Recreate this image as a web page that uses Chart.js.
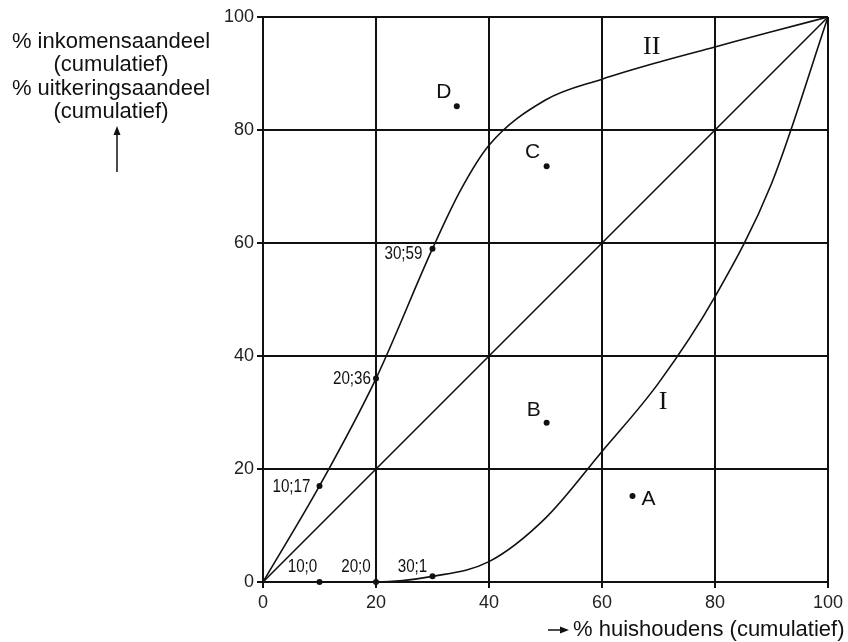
<!DOCTYPE html>
<html>
<head>
<meta charset="utf-8">
<script src="https://cdn.jsdelivr.net/npm/chart.js@4/dist/chart.umd.min.js"></script>
<style>
  html, body { margin: 0; padding: 0; background: #fff; }
</style>
</head>
<body>
<canvas id="lorenz" width="848" height="642"></canvas>
<script>
// tick labels for both axes
const axisTicks = [0, 20, 40, 60, 80, 100];

// equal distribution line
const diagX = [0, 100];
const diagY = [0, 100];

// curve I (inkomen)
const curveIX = [0, 10, 20, 30, 40, 50, 60, 70, 80, 90, 100];
const curveIY = [0, 0, 0, 1, 3.6, 11.3, 23.1, 35.2, 50.5, 70.5, 100];

// curve II (uitkeringen)
const curveIIX = [0, 10, 20, 30, 35, 40, 50, 60, 70, 80, 90, 100];
const curveIIY = [0, 17, 36, 59, 69.4, 77.3, 85.3, 89, 92, 94.7, 97.4, 100];

// labelled points on the curves
const markedLabels = ['10;17', '20;36', '30;59', '10;0', '20;0', '30;1'];
const markedX = [10, 20, 30, 10, 20, 30];
const markedY = [17, 36, 59, 0, 0, 1];

// loose points A..D
const letterLabels = ['A', 'B', 'C', 'D'];
const letterX = [65.4, 50.2, 50.2, 34.3];
const letterY = [15.2, 28.2, 73.6, 84.2];

// curve names, anchored in data units
const curveNames = ['I', 'II'];
const curveNameX = [70.8, 68.8];
const curveNameY = [31.9, 94.7];

const toPoints = (xs, ys) => xs.map((v, i) => ({ x: v, y: ys[i] }));

// text offsets in pixels (dx, dy, align)
const markedOffsets = [[-9, 1, 'right'], [-5, 0, 'right'], [-10, 5, 'right'],
                       [-17, -15, 'center'], [-20, -15, 'center'], [-20, -10, 'center']];
const letterOffsets = [[16, 3], [-13, -12], [-14, -14], [-13, -14]];

const INK = '#111';
const NARROW = 0.8; // horizontal squeeze for the small point labels

const annotations = {
    id: 'annotations',
    afterDatasetsDraw(chart) {
        const { ctx, scales: { x, y } } = chart;
        ctx.save();
        ctx.fillStyle = INK;
        ctx.strokeStyle = INK;
        ctx.textBaseline = 'middle';

        // narrow labels: squeeze the context instead of relying on a narrow font
        ctx.font = '19px "Liberation Sans", Arial, sans-serif';
        markedLabels.forEach((t, i) => {
            const o = markedOffsets[i];
            const px = x.getPixelForValue(markedX[i]) + o[0];
            const py = y.getPixelForValue(markedY[i]) + o[1];
            ctx.save();
            ctx.translate(px, py);
            ctx.scale(NARROW, 1);
            ctx.textAlign = o[2];
            ctx.fillText(t, 0, 0);
            ctx.restore();
        });

        ctx.font = '21px "Liberation Sans", Arial, sans-serif';
        ctx.textAlign = 'center';
        letterLabels.forEach((t, i) => {
            const o = letterOffsets[i];
            ctx.fillText(t, x.getPixelForValue(letterX[i]) + o[0], y.getPixelForValue(letterY[i]) + o[1]);
        });

        ctx.font = '26px "Liberation Serif", "Times New Roman", serif';
        curveNames.forEach((t, i) => {
            ctx.fillText(t, x.getPixelForValue(curveNameX[i]), y.getPixelForValue(curveNameY[i]));
        });

        // axis titles
        ctx.font = '22px "Liberation Sans", Arial, sans-serif';
        ctx.textAlign = 'center';
        ['% inkomensaandeel', '(cumulatief)', '% uitkeringsaandeel', '(cumulatief)']
            .forEach((t, i) => ctx.fillText(t, 111, 42 + i * 23.3));

        ctx.textAlign = 'left';
        ctx.fillText('% huishoudens (cumulatief)', 573, 630);

        // arrows
        ctx.lineWidth = 1.5;
        ctx.beginPath();
        ctx.moveTo(117, 172); ctx.lineTo(117, 132);
        ctx.moveTo(548, 630); ctx.lineTo(563, 630);
        ctx.stroke();
        ctx.beginPath();
        ctx.moveTo(117, 126); ctx.lineTo(113.5, 135); ctx.lineTo(120.5, 135); ctx.closePath();
        ctx.moveTo(569, 630); ctx.lineTo(560, 626.5); ctx.lineTo(560, 633.5); ctx.closePath();
        ctx.fill();
        ctx.restore();
    }
};

const curveStyle = {
    showLine: true,
    borderColor: INK,
    borderWidth: 1.6,
    pointRadius: 0,
    fill: false,
    clip: false
};

const axisStyle = (fit) => ({
    type: 'linear',
    min: 0,
    max: 100,
    afterBuildTicks: s => { s.ticks = axisTicks.map(v => ({ value: v })); },
    afterFit: fit,
    grid: { color: INK, lineWidth: 2, tickLength: 6 },
    border: { color: INK, width: 2 },
    ticks: {
        color: '#222',
        font: { family: '"Liberation Sans", Arial, sans-serif', size: 18 },
        padding: 3,
        maxRotation: 0
    }
});

new Chart(document.getElementById('lorenz'), {
    type: 'scatter',
    data: {
        datasets: [
            { ...curveStyle, data: toPoints(diagX, diagY), tension: 0 },
            { ...curveStyle, data: toPoints(curveIX, curveIY), cubicInterpolationMode: 'monotone' },
            { ...curveStyle, data: toPoints(curveIIX, curveIIY), cubicInterpolationMode: 'monotone' },
            { data: toPoints(markedX, markedY), pointRadius: 3, backgroundColor: INK, borderWidth: 0, clip: false },
            { data: toPoints(letterX, letterY), pointRadius: 3, backgroundColor: INK, borderWidth: 0, clip: false }
        ]
    },
    options: {
        responsive: false,
        animation: false,
        devicePixelRatio: 1,
        layout: { padding: { top: 17, right: 20, left: 0, bottom: 0 } },
        scales: {
            x: { ...axisStyle(s => { s.height = 60; }), ticks: { ...axisStyle().ticks, padding: 4 } },
            y: axisStyle(s => { s.width = 263; })
        },
        plugins: {
            legend: { display: false },
            tooltip: { enabled: false }
        }
    },
    plugins: [annotations]
});
</script>
</body>
</html>
